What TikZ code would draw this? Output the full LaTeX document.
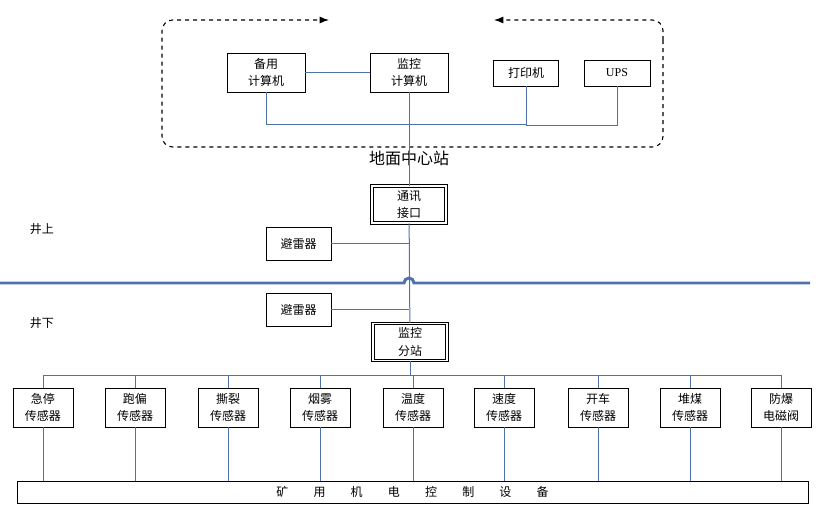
\documentclass[tikz,border=0pt]{standalone}
\usepackage{fontspec}
\setmainfont{Liberation Serif}
\newfontfamily\cjk{Noto Sans CJK SC}
\usetikzlibrary{arrows.meta}
\definecolor{lb}{RGB}{79,114,170}
\begin{document}
\begin{tikzpicture}[x=0.75pt,y=-0.75pt,
  box/.style={draw,semithick,minimum width=#1*0.75pt,align=center,inner sep=0pt,font=\cjk\fontsize{9}{13}\selectfont,fill=white},
  dbox/.style={draw,double,double distance=1.2pt,semithick,minimum width=74*0.75pt,minimum height=37*0.75pt,align=center,inner sep=0pt,font=\cjk\fontsize{9}{13}\selectfont,fill=white},
  ln/.style={lb,line width=0.75pt},
  lab/.style={font=\cjk\fontsize{9}{11}\selectfont}]
\useasboundingbox (0,0) rectangle (819,515);
% dashed frame
\draw[dashed,thick,rounded corners=8pt,-{Latex[length=7pt]}] (663,40) -- (663,20) -- (494,20);
\draw[dashed,thick,rounded corners=8pt,-{Latex[length=7pt]}] (663,40) -- (663,147) -- (162,147) -- (162,20) -- (329,20);
% top nodes
\node[box=78,minimum height=39*0.75pt] (bk) at (266,72.5) {备用\\计算机};
\node[box=78,minimum height=39*0.75pt] (jk) at (409,72.5) {监控\\计算机};
\node[box=65,minimum height=26*0.75pt] (dy) at (526,73) {打印机};
\node[box=66,minimum height=26*0.75pt,font=\fontsize{9}{11}\selectfont] (ups) at (617,73) {UPS};
\coordinate (b1) at (266,124);
\coordinate (b2) at (526,124);
\coordinate (b3) at (617,125);
\draw[ln] (bk) -- (jk);
\draw[ln] (bk) -- (b1) -- (b2) -- (dy);
\draw[ln] (b2) |- (b3) -- (ups);
\node[font=\cjk\fontsize{12}{14}\selectfont] (dm) at (409,158) {地面中心站};
\node[dbox] (tx) at (409,204.5) {通讯\\接口};
\node[box=65,minimum height=33*0.75pt] (bl1) at (298.5,243.5) {避雷器};
\node[box=65,minimum height=33*0.75pt] (bl2) at (298.5,309.5) {避雷器};
\node[dbox] (fz) at (410,342) {监控\\分站};
\node[lab] (js) at (42,229) {井上};
\node[lab] (jx) at (42,323) {井下};
% thick ground line with hop
\coordinate (gL) at (0,283);
\coordinate (gR) at (810,283);
\draw[lb,line width=2.2pt] (gL) -- (404,283) arc(180:360:5) -- (gR);
\draw[ln] (jk) -- (tx);
\draw[ln] (tx) -- (fz);
\draw[ln] (bl1.east) -- (409,243.5);
\draw[ln] (bl2.east) -- (409,309.5);
\node[box=791,minimum height=22*0.75pt] (sb) at (412.5,492) {矿\hspace{2.1em}用\hspace{2.1em}机\hspace{2.1em}电\hspace{2.1em}控\hspace{2.1em}制\hspace{2.1em}设\hspace{2.1em}备};
\coordinate (busL) at (43,375);
\coordinate (busR) at (781,375);
\draw[ln] (busL) -- (busR);
\draw[ln] (fz) -- (410,375);
\foreach \n/\x/\t in {s1/43/急停\\传感器, s2/135/跑偏\\传感器, s3/228/撕裂\\传感器, s4/320/烟雾\\传感器, s5/413/温度\\传感器, s6/504/速度\\传感器, s7/598/开车\\传感器, s8/690/堆煤\\传感器, s9/781/防爆\\电磁阀}{
  \node[box=60,minimum height=39*0.75pt] (\n) at (\x,407.5) {\t};
  \draw[ln] (\x,375) -- (\n.north);
  \draw[ln] (\n.south) -- (sb.north -| \n);
}
\end{tikzpicture}
\end{document}
